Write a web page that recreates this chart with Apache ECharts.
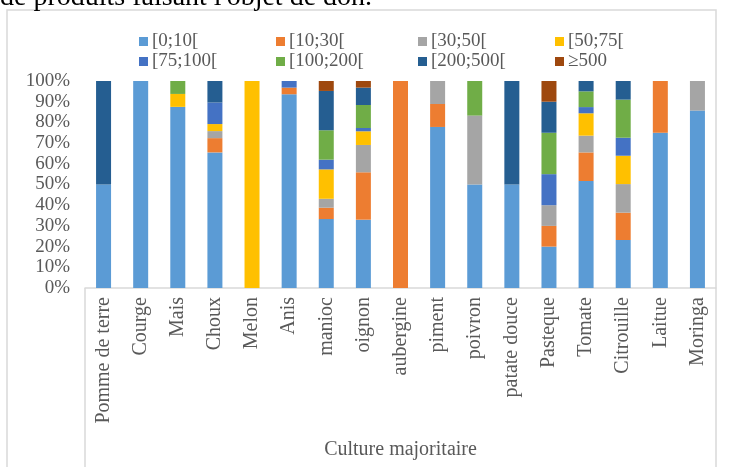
<!DOCTYPE html>
<html>
<head>
<meta charset="utf-8">
<script src="https://cdn.jsdelivr.net/npm/echarts@6/dist/echarts.min.js"></script>
<style>html,body{margin:0;padding:0;background:#fff}#c{width:731px;height:467px}</style>
</head>
<body>
<div id="c"></div>
<script>
var categories = ["Pomme de terre","Courge","Mais","Choux","Melon","Anis","manioc","oignon","aubergine","piment","poivron","patate douce","Pasteque","Tomate","Citrouille","Laitue","Moringa"];
var seriesNames = ["[0;10[","[10;30[","[30;50[","[50;75[","[75;100[","[100;200[","[200;500[","\u2265500"];
var colors = ["#5B9BD5","#ED7D31","#A5A5A5","#FFC000","#4472C4","#70AD47","#255E91","#9E480E"];
var yTicks = [0,10,20,30,40,50,60,70,80,90,100];

var s0_10    = [50, 100, 87.5, 65.5, 0, 93.6, 33.3, 33.0, 0, 77.8, 50, 50, 20, 51.7, 23.2, 75, 85.7];
var s10_30   = [0, 0, 0, 6.9, 0, 3.2, 5.5, 22.9, 100, 11.1, 0, 0, 10, 13.8, 13.2, 25, 0];
var s30_50   = [0, 0, 0, 3.4, 0, 0, 4.3, 13.2, 0, 11.1, 33.3, 0, 10, 8.1, 13.8, 0, 14.3];
var s50_75   = [0, 0, 6.25, 3.4, 100, 0, 14.2, 6.6, 0, 0, 0, 0, 0, 10.8, 13.7, 0, 0];
var s75_100  = [0, 0, 0, 10.4, 0, 3.2, 4.7, 1.6, 0, 0, 0, 0, 15, 3.0, 8.7, 0, 0];
var s100_200 = [0, 0, 6.25, 0, 0, 0, 14.2, 11.1, 0, 0, 16.7, 0, 20, 7.6, 18.4, 0, 0];
var s200_500 = [50, 0, 0, 10.4, 0, 0, 19.0, 8.4, 0, 0, 0, 50, 15, 5.0, 9.0, 0, 0];
var s500     = [0, 0, 0, 0, 0, 0, 4.8, 3.2, 0, 0, 0, 0, 10, 0, 0, 0, 0];

var allData = [s0_10, s10_30, s30_50, s50_75, s75_100, s100_200, s200_500, s500];
var serif = "'Liberation Serif', 'Times New Roman', serif";
var grey = "#595959";

var series = seriesNames.map(function(n, i){
  return {
    name: n, type: 'bar', stack: 'total', barWidth: 15,
    itemStyle: {color: colors[i]},
    data: allData[i]
  };
});

var legendX = [139, 276, 418, 555];
var legendY = [32, 52];
var legends = seriesNames.map(function(n, i){
  return {
    data: [n], left: legendX[i % 4], top: legendY[Math.floor(i / 4)],
    padding: 0, itemWidth: 9, itemHeight: 9, icon: 'rect', itemGap: 0,
    selectedMode: false,
    textStyle: {fontFamily: serif, fontSize: 19, color: grey, padding: [0,0,0,-1]}
  };
});

var chart = echarts.init(document.getElementById('c'), null, {renderer: 'canvas'});
chart.setOption({
  animation: false,
  color: colors,
  legend: legends,
  grid: {left: 85, right: 15, top: 81, bottom: 179, containLabel: false},
  xAxis: {
    type: 'category', data: categories,
    axisLine: {show: true, lineStyle: {color: '#d9d9d9', width: 1.5}},
    axisTick: {show: false},
    axisLabel: {rotate: 90, interval: 0, margin: 9, fontFamily: serif, fontSize: 20, color: grey},
    name: 'Culture majoritaire', nameLocation: 'middle', nameGap: 152,
    nameTextStyle: {fontFamily: serif, fontSize: 20, color: grey}
  },
  yAxis: {
    type: 'value', min: 0, max: 100, interval: 10,
    axisLine: {show: false}, axisTick: {show: false}, splitLine: {show: false},
    axisLabel: {formatter: function(v){ return yTicks.indexOf(v) >= 0 ? v + '%' : ''; }, margin: 15, fontFamily: serif, fontSize: 19, color: grey}
  },
  graphic: [
    {type: 'rect', shape: {x: 7, y: 10, width: 709, height: 480}, style: {fill: 'none', stroke: '#d9d9d9', lineWidth: 1.5}, silent: true},
    {type: 'line', shape: {x1: 85, y1: 288, x2: 85, y2: 490}, style: {stroke: '#d9d9d9', lineWidth: 1.5}, silent: true},
    {type: 'text', left: 0, top: -16, z: 10, style: {text: "de produits faisant l'objet de don.", font: "28px 'Liberation Serif', serif", fill: '#000'}, silent: true}
  ],
  series: series
});
</script>
</body>
</html>
